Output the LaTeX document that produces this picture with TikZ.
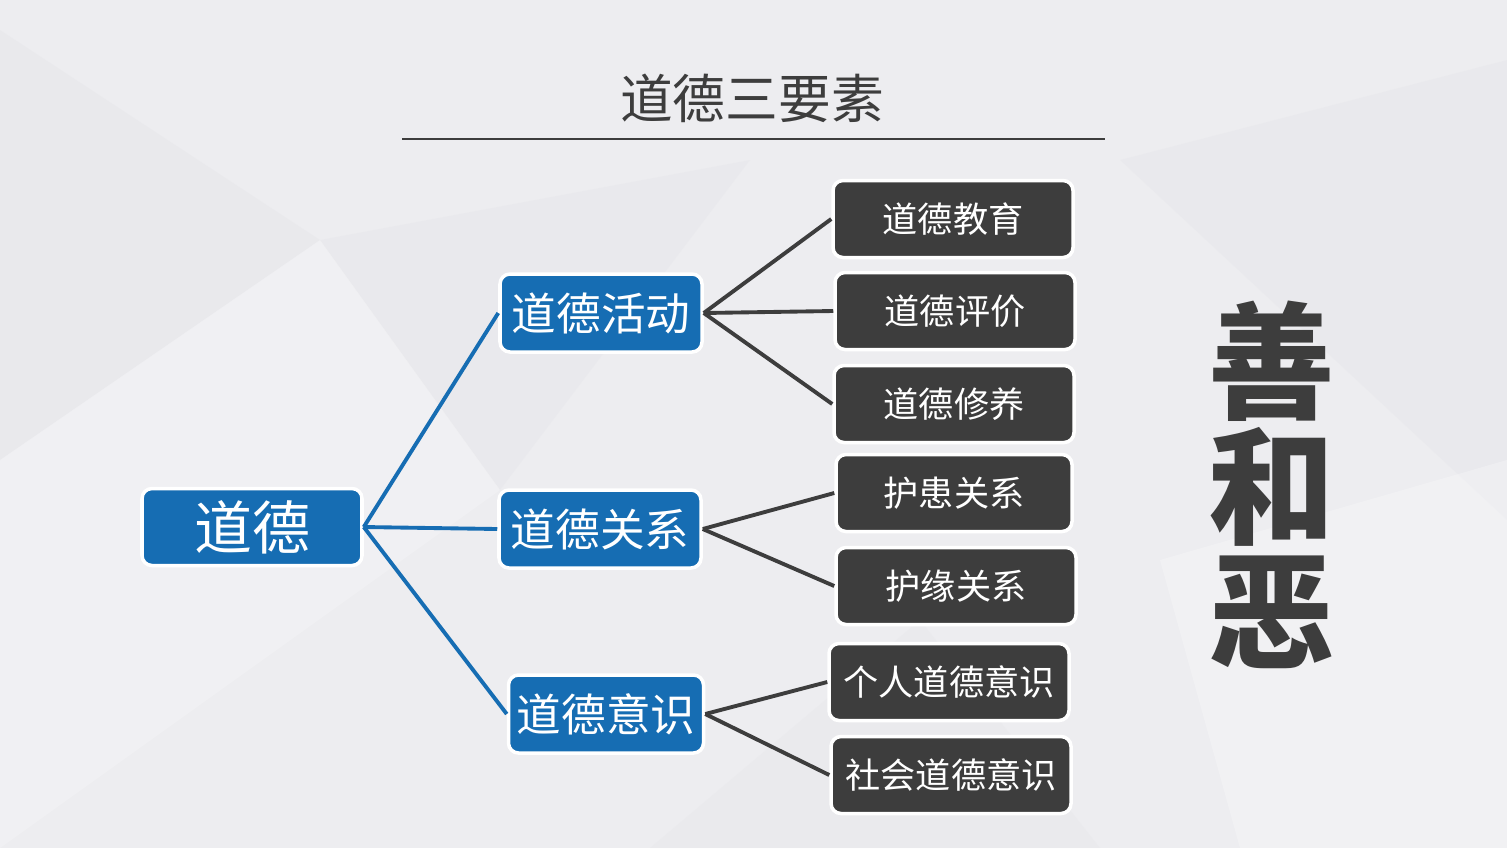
\documentclass[tikz,border=0pt]{standalone}
\usepackage{fontspec}
\setmainfont{Noto Sans CJK SC}
\newfontfamily\cjk{Noto Sans CJK SC}
\usetikzlibrary{calc,positioning}
\definecolor{bgray}{HTML}{EDEDF0}
\definecolor{bshade}{HTML}{E3E3E7}
\definecolor{mblue}{HTML}{166DB3}
\definecolor{dgray}{HTML}{3D3D3D}
\tikzset{
    rootbox/.style={rectangle, rounded corners=1mm, fill=mblue, draw=white, line width=1pt, text=white, minimum width=2.2cm, minimum height=0.77cm, inner sep=1pt, font=\cjk\fontsize{16.5}{18}\selectfont},
    midbox/.style={rectangle, rounded corners=1mm, fill=mblue, draw=white, line width=1pt, text=white, minimum width=2.02cm, minimum height=0.78cm, inner sep=1pt, font=\cjk\fontsize{12.7}{14}\selectfont},
    leafbox/.style={rectangle, rounded corners=1mm, fill=dgray, draw=white, line width=1pt, text=white, minimum width=2.4cm, minimum height=0.77cm, inner sep=1pt, font=\cjk\fontsize{10}{12}\selectfont},
    branch/.style={draw=mblue, line width=1.1pt},
    twig/.style={draw=dgray, line width=1.1pt}
}

\begin{document}
\begin{tikzpicture}
    % background
    \fill[bgray] (0,0) rectangle (15.07,-8.48);
    \fill[bshade, opacity=0.35] (0,-0.3) -- (3.2,-2.4) -- (0,-4.6) -- cycle;
    \fill[bshade, opacity=0.3] (3.2,-2.4) -- (7.5,-1.6) -- (5.0,-4.9) -- cycle;
    \fill[white, opacity=0.2] (0,-4.6) -- (3.2,-2.4) -- (5.0,-4.9) -- (0,-8.48) -- cycle;
    \fill[bshade, opacity=0.3] (11.2,-1.6) -- (15.07,-0.6) -- (15.07,-5.2) -- cycle;
    \fill[white, opacity=0.25] (11.6,-5.6) -- (15.07,-4.6) -- (15.07,-8.48) -- (12.4,-8.48) -- cycle;
    \fill[bshade, opacity=0.25] (6.5,-8.48) -- (9.2,-6.2) -- (11.0,-8.48) -- cycle;
    \useasboundingbox (0,0) rectangle (15.07,-8.48);

    % title
    \node[text=dgray, font=\cjk\fontsize{15}{17}\selectfont] (title) at (7.52,-0.98) {道德三要素};
    \coordinate (ruleL) at (4.02,-1.39);
    \coordinate (ruleR) at (11.05,-1.39);
    \draw[dgray, line width=0.5pt] (ruleL) -- (ruleR);

    % Nodes
    \node[rootbox] (moral) at (2.52,-5.27) {道德};
    \node[midbox] (act) at (6.01,-3.13) {道德活动};
    \node[midbox] (rel) at (6.00,-5.29) {道德关系};
    \node[midbox, minimum width=1.95cm] (con) at (6.06,-7.14) {道德意识};

    \node[leafbox] (edu) at (9.53,-2.19) {道德教育};
    \node[leafbox] (eva) at (9.55,-3.11) {道德评价};
    \node[leafbox] (cul) at (9.54,-4.04) {道德修养};
    \node[leafbox, minimum width=2.36cm] (nur) at (9.54,-4.93) {护患关系};
    \node[leafbox] (fat) at (9.56,-5.86) {护缘关系};
    \node[leafbox] (ind) at (9.49,-6.82) {个人道德意识};
    \node[leafbox] (soc) at (9.51,-7.75) {社会道德意识};

    \node[text=dgray, font=\cjk\bfseries\fontsize{36}{35.5}\selectfont, align=center] (good) at (12.72,-4.85) {善\\和\\恶};

    % edges
    \draw[branch] (moral.east) -- (act.west);
    \draw[branch] (moral.east) -- (rel.west);
    \draw[branch] (moral.east) -- (con.west);

    \draw[twig] (act.east) -- (edu.west);
    \draw[twig] (act.east) -- (eva.west);
    \draw[twig] (act.east) -- (cul.west);
    \draw[twig] (rel.east) -- (nur.west);
    \draw[twig] (rel.east) -- (fat.west);
    \draw[twig] (con.east) -- (ind.west);
    \draw[twig] (con.east) -- (soc.west);
\end{tikzpicture}
\end{document}
